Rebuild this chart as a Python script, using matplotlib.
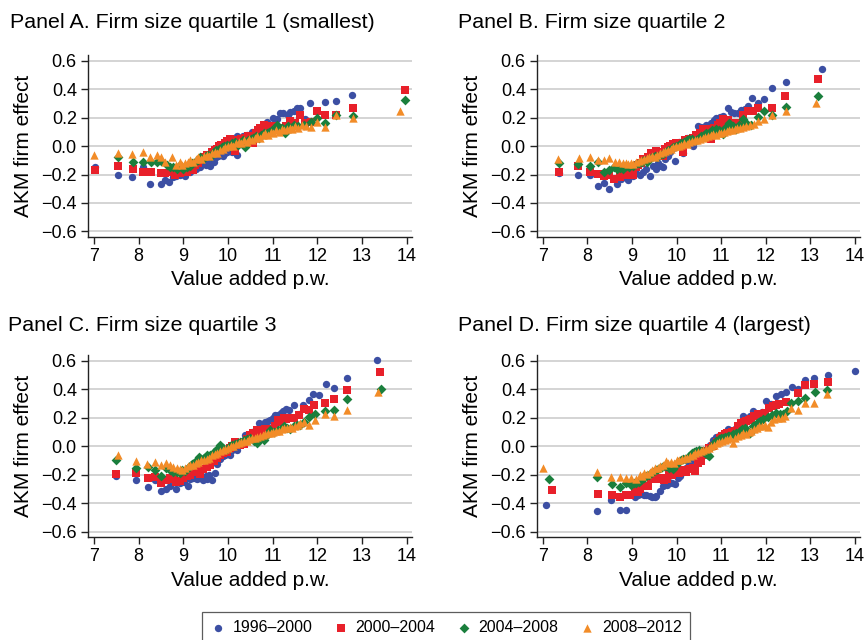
import numpy as np
import matplotlib
matplotlib.use('Agg')
from matplotlib import pyplot as plt

# series labels / styles
periods = ['1996–2000', '2000–2004', '2004–2008', '2008–2012']
colors = ['#3c4fa3', '#e8202a', '#1a7f3c', '#f28c28']
markers = ['o', 's', 'D', '^']
sizes = [28, 26, 25, 36]

panel_titles = ['Panel A. Firm size quartile 1 (smallest)',
                'Panel B. Firm size quartile 2',
                'Panel C. Firm size quartile 3',
                'Panel D. Firm size quartile 4 (largest)']

x_ticks = [7, 8, 9, 10, 11, 12, 13, 14]
y_ticks = [0.6, 0.4, 0.2, 0.0, -0.2, -0.4, -0.6]

# --- Panel A: (value added p.w., AKM firm effect) ---
A_96 = [(7.03,-0.15),(7.54,-0.20),(7.86,-0.22),(8.09,-0.15),(8.26,-0.27),(8.51,-0.27),(8.60,-0.24),(8.68,-0.25),(8.78,-0.22),(8.84,-0.21),(8.92,-0.20),(8.98,-0.19),(9.04,-0.21),(9.10,-0.17),(9.16,-0.18),(9.22,-0.15),(9.28,-0.16),(9.33,-0.13),(9.38,-0.15),(9.44,-0.12),(9.50,-0.13),(9.55,-0.11),(9.60,-0.14),(9.65,-0.10),(9.68,-0.11),(9.73,-0.08),(9.78,-0.07),(9.83,-0.06),(9.88,-0.07),(9.93,-0.05),(9.98,-0.04),(10.03,-0.03),(10.08,-0.04),(10.13,-0.02),(10.20,-0.06),(10.21,0.07),(10.27,0.05),(10.33,0.07),(10.43,0.08),(10.50,0.07),(10.55,0.10),(10.60,0.09),(10.65,0.11),(10.70,0.13),(10.75,0.12),(10.80,0.14),(10.87,0.17),(10.94,0.15),(11.01,0.20),(11.10,0.19),(11.16,0.23),(11.24,0.23),(11.34,0.22),(11.40,0.24),(11.48,0.25),(11.55,0.27),(11.61,0.27),(11.72,0.19),(11.84,0.30),(12.18,0.31),(12.41,0.32),(12.79,0.36)]
A_00 = [(7.03,-0.17),(7.54,-0.14),(7.88,-0.16),(8.09,-0.18),(8.27,-0.18),(8.49,-0.19),(8.59,-0.19),(8.70,-0.18),(8.81,-0.20),(8.88,-0.19),(8.93,-0.19),(9.00,-0.17),(9.08,-0.18),(9.14,-0.16),(9.21,-0.17),(9.27,-0.13),(9.33,-0.12),(9.40,-0.10),(9.46,-0.08),(9.53,-0.06),(9.58,-0.07),(9.64,-0.04),(9.70,-0.03),(9.75,-0.02),(9.79,0.00),(9.85,0.01),(9.90,0.00),(9.94,0.02),(9.98,0.035),(10.05,0.05),(10.10,0.03),(10.16,-0.035),(10.22,0.04),(10.30,0.05),(10.38,0.06),(10.45,0.07),(10.52,0.05),(10.57,0.02),(10.63,0.09),(10.68,0.11),(10.72,0.13),(10.76,0.12),(10.80,0.145),(10.88,0.12),(10.94,0.13),(10.99,0.14),(11.06,0.11),(11.14,0.13),(11.21,0.12),(11.30,0.14),(11.40,0.175),(11.51,0.165),(11.62,0.215),(11.73,0.16),(11.85,0.17),(12.00,0.245),(12.18,0.215),(12.41,0.22),(12.81,0.27),(13.97,0.395)]
A_04 = [(7.54,-0.075),(7.88,-0.11),(8.09,-0.11),(8.27,-0.11),(8.40,-0.11),(8.51,-0.105),(8.63,-0.13),(8.70,-0.15),(8.78,-0.15),(8.86,-0.16),(8.93,-0.13),(9.00,-0.16),(9.08,-0.15),(9.14,-0.14),(9.20,-0.12),(9.26,-0.11),(9.32,-0.10),(9.38,-0.08),(9.44,-0.09),(9.50,-0.07),(9.56,-0.06),(9.62,-0.07),(9.68,-0.045),(9.74,-0.03),(9.80,-0.02),(9.86,-0.01),(9.92,0.00),(9.98,0.01),(10.04,0.00),(10.10,0.02),(10.16,0.03),(10.22,0.01),(10.28,0.02),(10.34,0.04),(10.39,-0.01),(10.45,0.04),(10.51,0.05),(10.57,0.06),(10.63,0.07),(10.69,0.06),(10.75,0.08),(10.81,0.09),(10.87,0.09),(10.93,0.10),(10.99,0.11),(11.05,0.12),(11.10,0.15),(11.17,0.12),(11.22,0.13),(11.28,0.09),(11.35,0.14),(11.42,0.13),(11.48,0.15),(11.58,0.14),(11.70,0.15),(11.85,0.17),(12.00,0.20),(12.18,0.165),(12.41,0.22),(12.81,0.21),(13.97,0.325)]
A_08 = [(7.00,-0.06),(7.54,-0.05),(7.86,-0.055),(8.09,-0.04),(8.25,-0.08),(8.40,-0.065),(8.51,-0.08),(8.60,-0.115),(8.75,-0.075),(8.84,-0.135),(8.93,-0.115),(8.98,-0.13),(9.04,-0.12),(9.10,-0.11),(9.16,-0.10),(9.22,-0.11),(9.28,-0.09),(9.34,-0.08),(9.40,-0.09),(9.46,-0.07),(9.52,-0.06),(9.58,-0.07),(9.64,-0.05),(9.70,-0.04),(9.76,-0.05),(9.82,-0.03),(9.88,-0.02),(9.94,-0.01),(10.00,0.00),(10.06,0.01),(10.12,0.00),(10.18,0.02),(10.24,0.03),(10.30,0.02),(10.36,0.04),(10.42,0.03),(10.48,0.05),(10.54,0.04),(10.60,0.06),(10.66,0.07),(10.72,0.06),(10.78,0.08),(10.84,0.09),(10.90,0.08),(10.96,0.10),(11.02,0.09),(11.08,0.11),(11.14,0.10),(11.20,0.12),(11.26,0.11),(11.32,0.12),(11.38,0.13),(11.44,0.12),(11.50,0.14),(11.58,0.13),(11.66,0.15),(11.74,0.14),(11.85,0.135),(12.00,0.17),(12.18,0.135),(12.41,0.215),(12.81,0.195),(13.85,0.25)]

# --- Panel B ---
B_96 = [(7.36,-0.19),(7.79,-0.205),(8.05,-0.20),(8.24,-0.28),(8.37,-0.26),(8.48,-0.30),(8.66,-0.27),(8.76,-0.235),(8.84,-0.22),(8.92,-0.24),(9.02,-0.21),(9.10,-0.19),(9.18,-0.20),(9.25,-0.18),(9.32,-0.16),(9.41,-0.21),(9.47,-0.14),(9.53,-0.16),(9.59,-0.12),(9.66,-0.14),(9.69,-0.15),(9.74,-0.09),(9.80,-0.07),(9.86,-0.04),(9.91,-0.02),(9.96,-0.105),(10.00,0.01),(10.06,0.03),(10.14,-0.047),(10.18,0.05),(10.24,0.06),(10.30,0.04),(10.37,0.00),(10.42,0.07),(10.48,0.14),(10.56,0.135),(10.62,0.12),(10.67,0.15),(10.72,0.13),(10.78,0.165),(10.84,0.18),(10.89,0.20),(10.97,0.205),(11.04,0.21),(11.15,0.27),(11.23,0.24),(11.30,0.23),(11.38,0.23),(11.45,0.255),(11.53,0.26),(11.60,0.28),(11.69,0.34),(11.83,0.30),(11.96,0.33),(12.15,0.41),(12.46,0.45),(13.27,0.54)]
B_00 = [(7.36,-0.18),(7.79,-0.14),(8.05,-0.18),(8.24,-0.195),(8.37,-0.21),(8.48,-0.205),(8.59,-0.235),(8.74,-0.22),(8.80,-0.19),(8.87,-0.20),(8.95,-0.19),(9.02,-0.205),(9.08,-0.15),(9.14,-0.13),(9.20,-0.12),(9.25,-0.093),(9.31,-0.10),(9.37,-0.08),(9.43,-0.047),(9.49,-0.06),(9.54,-0.035),(9.60,-0.05),(9.65,-0.04),(9.69,-0.07),(9.75,-0.02),(9.81,-0.01),(9.86,0.00),(9.92,0.012),(9.98,0.02),(10.04,0.01),(10.10,0.023),(10.14,-0.042),(10.20,0.04),(10.29,0.05),(10.36,0.06),(10.44,0.08),(10.52,0.09),(10.59,0.117),(10.66,0.10),(10.74,0.12),(10.78,0.047),(10.85,0.13),(10.93,0.145),(10.98,0.16),(11.04,0.187),(11.10,0.17),(11.15,0.18),(11.21,0.15),(11.27,0.163),(11.38,0.16),(11.49,0.22),(11.60,0.245),(11.71,0.25),(11.83,0.27),(12.15,0.27),(12.44,0.35),(13.17,0.47)]
B_04 = [(7.36,-0.117),(7.79,-0.128),(8.05,-0.14),(8.24,-0.11),(8.37,-0.18),(8.48,-0.165),(8.59,-0.147),(8.66,-0.16),(8.74,-0.152),(8.80,-0.16),(8.87,-0.14),(8.94,-0.15),(9.02,-0.14),(9.10,-0.128),(9.16,-0.12),(9.22,-0.11),(9.28,-0.10),(9.34,-0.11),(9.39,-0.09),(9.45,-0.08),(9.51,-0.07),(9.57,-0.08),(9.63,-0.06),(9.69,-0.058),(9.75,-0.04),(9.81,-0.03),(9.87,-0.02),(9.93,-0.01),(9.99,0.00),(10.05,0.01),(10.11,0.02),(10.17,0.03),(10.23,0.04),(10.29,0.047),(10.35,0.05),(10.44,0.04),(10.50,0.06),(10.56,0.07),(10.62,0.08),(10.67,0.093),(10.73,0.09),(10.79,0.11),(10.85,0.10),(10.89,0.12),(10.96,0.11),(11.04,0.086),(11.10,0.13),(11.19,0.163),(11.26,0.14),(11.34,0.117),(11.41,0.15),(11.49,0.187),(11.56,0.16),(11.68,0.145),(11.83,0.205),(11.96,0.25),(12.15,0.217),(12.45,0.273),(13.18,0.355)]
B_08 = [(7.34,-0.093),(7.80,-0.086),(8.05,-0.077),(8.24,-0.10),(8.37,-0.098),(8.48,-0.086),(8.61,-0.11),(8.71,-0.11),(8.80,-0.117),(8.86,-0.12),(8.91,-0.128),(8.97,-0.12),(9.03,-0.125),(9.09,-0.11),(9.15,-0.105),(9.21,-0.10),(9.27,-0.09),(9.33,-0.085),(9.39,-0.08),(9.45,-0.07),(9.51,-0.075),(9.57,-0.06),(9.63,-0.05),(9.69,-0.045),(9.75,-0.035),(9.81,-0.03),(9.87,-0.02),(9.93,-0.01),(9.99,0.00),(10.05,0.00),(10.11,0.01),(10.17,0.02),(10.23,0.015),(10.29,0.03),(10.35,0.035),(10.41,0.04),(10.47,0.045),(10.53,0.05),(10.59,0.06),(10.65,0.065),(10.71,0.07),(10.77,0.075),(10.83,0.085),(10.89,0.08),(10.95,0.09),(11.01,0.095),(11.07,0.10),(11.13,0.105),(11.19,0.11),(11.25,0.115),(11.31,0.12),(11.37,0.13),(11.43,0.125),(11.49,0.135),(11.57,0.14),(11.65,0.15),(11.73,0.155),(11.83,0.175),(11.96,0.19),(12.15,0.22),(12.45,0.25),(13.14,0.30)]

# --- Panel C ---
C_96 = [(7.50,-0.206),(7.95,-0.24),(8.20,-0.29),(8.36,-0.24),(8.50,-0.317),(8.61,-0.30),(8.70,-0.28),(8.84,-0.30),(8.93,-0.26),(9.02,-0.253),(9.11,-0.277),(9.16,-0.23),(9.21,-0.225),(9.26,-0.22),(9.30,-0.23),(9.38,-0.223),(9.45,-0.24),(9.50,-0.21),(9.53,-0.23),(9.58,-0.20),(9.64,-0.237),(9.71,-0.19),(9.75,-0.124),(9.82,-0.088),(9.88,-0.07),(9.94,-0.06),(10.00,-0.05),(10.05,-0.065),(10.10,-0.03),(10.15,-0.01),(10.20,-0.03),(10.26,0.02),(10.32,0.04),(10.39,0.077),(10.46,0.07),(10.54,0.10),(10.60,0.11),(10.65,0.12),(10.69,0.16),(10.75,0.14),(10.84,0.17),(10.90,0.18),(10.95,0.183),(11.00,0.20),(11.06,0.218),(11.12,0.22),(11.18,0.235),(11.23,0.25),(11.29,0.265),(11.36,0.254),(11.48,0.29),(11.59,0.23),(11.69,0.29),(11.81,0.325),(11.91,0.37),(12.04,0.36),(12.20,0.44),(12.38,0.41),(12.67,0.478),(13.33,0.607)]
C_00 = [(7.50,-0.195),(7.95,-0.19),(8.20,-0.223),(8.36,-0.218),(8.50,-0.26),(8.61,-0.237),(8.70,-0.223),(8.78,-0.23),(8.84,-0.253),(8.93,-0.242),(9.00,-0.22),(9.08,-0.206),(9.15,-0.20),(9.23,-0.183),(9.30,-0.17),(9.38,-0.195),(9.45,-0.16),(9.53,-0.143),(9.60,-0.13),(9.68,-0.105),(9.75,-0.08),(9.83,-0.065),(9.90,-0.05),(9.98,-0.041),(10.05,-0.01),(10.10,0.00),(10.16,0.03),(10.22,0.02),(10.28,0.01),(10.35,0.013),(10.42,0.05),(10.50,0.077),(10.57,0.09),(10.65,0.112),(10.70,0.11),(10.76,0.10),(10.82,0.12),(10.88,0.124),(10.99,0.117),(11.05,0.14),(11.12,0.183),(11.18,0.17),(11.25,0.195),(11.30,0.19),(11.36,0.195),(11.42,0.20),(11.48,0.195),(11.59,0.218),(11.70,0.265),(11.81,0.254),(11.92,0.29),(12.18,0.305),(12.37,0.33),(12.67,0.395),(13.40,0.522)]
C_04 = [(7.50,-0.10),(7.95,-0.154),(8.20,-0.147),(8.36,-0.17),(8.51,-0.206),(8.61,-0.154),(8.70,-0.166),(8.78,-0.178),(8.85,-0.183),(8.92,-0.19),(8.98,-0.17),(9.04,-0.176),(9.10,-0.15),(9.15,-0.14),(9.19,-0.128),(9.25,-0.12),(9.30,-0.10),(9.35,-0.077),(9.40,-0.09),(9.46,-0.08),(9.53,-0.065),(9.60,-0.06),(9.68,-0.041),(9.75,-0.02),(9.83,0.006),(9.90,-0.01),(9.98,-0.018),(10.05,0.00),(10.10,0.01),(10.16,0.018),(10.22,0.02),(10.28,0.03),(10.35,0.046),(10.42,0.05),(10.50,0.058),(10.58,0.04),(10.65,0.025),(10.72,0.05),(10.80,0.041),(10.88,0.08),(10.95,0.117),(11.03,0.10),(11.12,0.112),(11.18,0.12),(11.25,0.14),(11.32,0.13),(11.40,0.124),(11.48,0.14),(11.55,0.147),(11.62,0.15),(11.70,0.171),(11.81,0.206),(11.96,0.225),(12.18,0.246),(12.37,0.258),(12.67,0.331),(13.42,0.40)]
C_08 = [(7.54,-0.06),(7.94,-0.105),(8.18,-0.124),(8.36,-0.112),(8.51,-0.129),(8.61,-0.12),(8.70,-0.135),(8.78,-0.147),(8.85,-0.155),(8.92,-0.16),(8.98,-0.17),(9.04,-0.15),(9.10,-0.14),(9.16,-0.135),(9.22,-0.13),(9.28,-0.12),(9.34,-0.11),(9.40,-0.10),(9.46,-0.095),(9.52,-0.09),(9.58,-0.08),(9.64,-0.065),(9.70,-0.055),(9.76,-0.045),(9.82,-0.035),(9.88,-0.03),(9.94,-0.02),(10.00,-0.01),(10.06,0.00),(10.12,0.005),(10.18,0.015),(10.24,0.02),(10.30,0.03),(10.36,0.035),(10.42,0.04),(10.48,0.05),(10.54,0.055),(10.60,0.06),(10.66,0.065),(10.72,0.075),(10.78,0.08),(10.84,0.085),(10.90,0.09),(10.96,0.095),(11.02,0.10),(11.08,0.11),(11.14,0.105),(11.20,0.12),(11.26,0.125),(11.32,0.13),(11.38,0.135),(11.44,0.13),(11.50,0.14),(11.56,0.15),(11.62,0.16),(11.70,0.17),(11.81,0.147),(11.96,0.183),(12.18,0.23),(12.37,0.21),(12.67,0.258),(13.37,0.38)]

# --- Panel D ---
D_96 = [(7.07,-0.415),(8.21,-0.455),(8.53,-0.38),(8.74,-0.45),(8.87,-0.45),(9.06,-0.36),(9.14,-0.34),(9.21,-0.337),(9.27,-0.34),(9.32,-0.342),(9.40,-0.35),(9.46,-0.36),(9.51,-0.355),(9.55,-0.35),(9.62,-0.314),(9.69,-0.283),(9.78,-0.274),(9.84,-0.255),(9.90,-0.26),(9.96,-0.267),(10.03,-0.22),(10.08,-0.21),(10.14,-0.178),(10.22,-0.15),(10.29,-0.127),(10.35,-0.10),(10.41,-0.068),(10.47,-0.05),(10.52,-0.045),(10.60,-0.03),(10.67,-0.033),(10.75,0.01),(10.82,0.042),(10.89,0.066),(10.95,0.07),(11.00,0.077),(11.08,0.10),(11.15,0.12),(11.21,0.11),(11.27,0.112),(11.33,0.13),(11.38,0.138),(11.44,0.17),(11.49,0.209),(11.55,0.20),(11.60,0.19),(11.66,0.21),(11.72,0.248),(11.78,0.23),(11.83,0.206),(11.92,0.24),(12.00,0.319),(12.07,0.30),(12.13,0.295),(12.24,0.354),(12.35,0.366),(12.46,0.384),(12.60,0.417),(12.73,0.40),(12.88,0.466),(13.08,0.483),(13.40,0.50),(14.00,0.53)]
D_00 = [(7.21,-0.31),(8.24,-0.337),(8.56,-0.345),(8.74,-0.36),(8.87,-0.342),(8.95,-0.345),(9.06,-0.29),(9.13,-0.32),(9.19,-0.30),(9.25,-0.28),(9.30,-0.28),(9.36,-0.28),(9.43,-0.22),(9.49,-0.23),(9.55,-0.22),(9.61,-0.23),(9.66,-0.22),(9.72,-0.235),(9.78,-0.232),(9.84,-0.197),(9.90,-0.20),(9.99,-0.18),(10.06,-0.185),(10.14,-0.17),(10.22,-0.178),(10.30,-0.16),(10.36,-0.15),(10.41,-0.173),(10.48,-0.115),(10.56,-0.103),(10.62,-0.06),(10.67,-0.033),(10.74,-0.01),(10.82,0.002),(10.90,0.03),(10.97,0.061),(11.03,0.07),(11.08,0.084),(11.14,0.09),(11.19,0.096),(11.25,0.10),(11.31,0.108),(11.38,0.14),(11.45,0.166),(11.51,0.17),(11.57,0.178),(11.62,0.185),(11.68,0.19),(11.75,0.21),(11.83,0.225),(11.90,0.23),(11.98,0.237),(12.08,0.27),(12.16,0.284),(12.23,0.29),(12.31,0.30),(12.46,0.314),(12.73,0.377),(12.88,0.431),(13.08,0.44),(13.40,0.455)]
D_04 = [(7.13,-0.232),(8.22,-0.216),(8.55,-0.267),(8.74,-0.286),(8.87,-0.262),(8.98,-0.272),(9.04,-0.26),(9.10,-0.262),(9.16,-0.25),(9.21,-0.239),(9.27,-0.22),(9.32,-0.209),(9.38,-0.20),(9.43,-0.19),(9.47,-0.178),(9.53,-0.17),(9.58,-0.16),(9.62,-0.15),(9.68,-0.145),(9.72,-0.14),(9.77,-0.138),(9.83,-0.15),(9.88,-0.14),(9.92,-0.162),(9.98,-0.13),(10.04,-0.11),(10.09,-0.10),(10.14,-0.087),(10.20,-0.09),(10.25,-0.08),(10.29,-0.068),(10.35,-0.05),(10.40,-0.04),(10.44,-0.033),(10.50,-0.03),(10.55,-0.035),(10.59,-0.033),(10.65,-0.05),(10.70,-0.06),(10.74,-0.068),(10.80,0.00),(10.85,0.02),(10.89,0.037),(10.95,0.05),(11.00,0.055),(11.04,0.061),(11.10,0.065),(11.15,0.07),(11.19,0.073),(11.26,0.085),(11.34,0.096),(11.42,0.11),(11.48,0.12),(11.53,0.127),(11.58,0.11),(11.64,0.096),(11.72,0.14),(11.80,0.16),(11.87,0.178),(11.95,0.19),(12.05,0.206),(12.15,0.22),(12.24,0.237),(12.32,0.23),(12.39,0.23),(12.49,0.248),(12.58,0.307),(12.73,0.319),(12.88,0.342),(13.10,0.384),(13.38,0.394)]
D_08 = [(7.00,-0.155),(8.22,-0.178),(8.53,-0.216),(8.72,-0.213),(8.87,-0.225),(8.98,-0.22),(9.10,-0.232),(9.17,-0.20),(9.22,-0.21),(9.28,-0.19),(9.34,-0.195),(9.40,-0.18),(9.46,-0.17),(9.52,-0.15),(9.58,-0.155),(9.64,-0.14),(9.70,-0.13),(9.76,-0.105),(9.82,-0.12),(9.88,-0.11),(9.94,-0.115),(10.00,-0.10),(10.06,-0.095),(10.12,-0.09),(10.18,-0.085),(10.24,-0.08),(10.30,-0.07),(10.36,-0.06),(10.42,-0.05),(10.48,-0.04),(10.54,-0.035),(10.60,-0.03),(10.66,-0.02),(10.72,-0.01),(10.78,0.00),(10.84,0.01),(10.90,0.02),(10.96,0.03),(11.02,0.04),(11.08,0.045),(11.14,0.05),(11.20,0.055),(11.26,0.02),(11.32,0.06),(11.38,0.07),(11.44,0.08),(11.50,0.09),(11.56,0.085),(11.62,0.10),(11.68,0.11),(11.74,0.12),(11.80,0.13),(11.86,0.14),(11.92,0.145),(11.98,0.15),(12.05,0.136),(12.12,0.17),(12.20,0.19),(12.28,0.20),(12.36,0.20),(12.44,0.21),(12.58,0.272),(12.73,0.253),(12.88,0.307),(13.08,0.307),(13.38,0.366)]

panels = [[A_96, A_00, A_04, A_08],
          [B_96, B_00, B_04, B_08],
          [C_96, C_00, C_04, C_08],
          [D_96, D_00, D_04, D_08]]

plt.rcParams['font.family'] = ['Liberation Sans', 'DejaVu Sans']

fig = plt.figure(figsize=(8.66, 6.4), dpi=100)

# axes boxes in figure fraction (left, bottom, width, height)
boxes = [(0.1016, 0.630, 0.374, 0.284),
         (0.620, 0.630, 0.373, 0.284),
         (0.1016, 0.161, 0.374, 0.284),
         (0.620, 0.161, 0.373, 0.284)]
title_pos = [(0.012, 0.965), (0.529, 0.965), (0.009, 0.492), (0.529, 0.492)]

handles = []
for i in range(4):
    ax = fig.add_axes(boxes[i])
    for k, series in enumerate(panels[i]):
        arr = np.array(series)
        h = ax.scatter(arr[:, 0], arr[:, 1], s=sizes[k], marker=markers[k],
                       color=colors[k], linewidths=0, zorder=3 + k, label=periods[k])
        if i == 0:
            handles.append(h)
    ax.set_xlim(6.865, 14.12)
    ax.set_ylim(-0.638, 0.64)
    ax.set_xticks(x_ticks)
    ax.set_yticks(y_ticks)
    ax.set_yticklabels([f'{v:.1f}'.replace('-', '\u2212') for v in y_ticks])
    ax.yaxis.grid(True, color='#d4d4d4', linewidth=1.4, zorder=0)
    ax.set_axisbelow(True)
    for side in ['top', 'right']:
        ax.spines[side].set_visible(False)
    for side in ['left', 'bottom']:
        ax.spines[side].set_linewidth(1.0)
        ax.spines[side].set_color('#222222')
    ax.tick_params(axis='both', labelsize=13, length=5, width=1.0, color='#222222', pad=3)
    ax.set_xlabel('Value added p.w.', fontsize=15, labelpad=4)
    ax.set_ylabel('AKM firm effect', fontsize=15, labelpad=6)
    fig.text(title_pos[i][0], title_pos[i][1], panel_titles[i], fontsize=15.4,
             ha='left', va='center')

leg = fig.legend(handles=handles, labels=periods, ncol=4, loc='center',
                 bbox_to_anchor=(0.515, 0.02), fontsize=11.5, frameon=True,
                 fancybox=False, edgecolor='#333333', handletextpad=0.4,
                 handlelength=1.0, columnspacing=1.3, markerscale=1.0,
                 borderpad=0.5, borderaxespad=0.0)
leg.get_frame().set_linewidth(0.9)

fig.savefig('out.png', dpi=100)
